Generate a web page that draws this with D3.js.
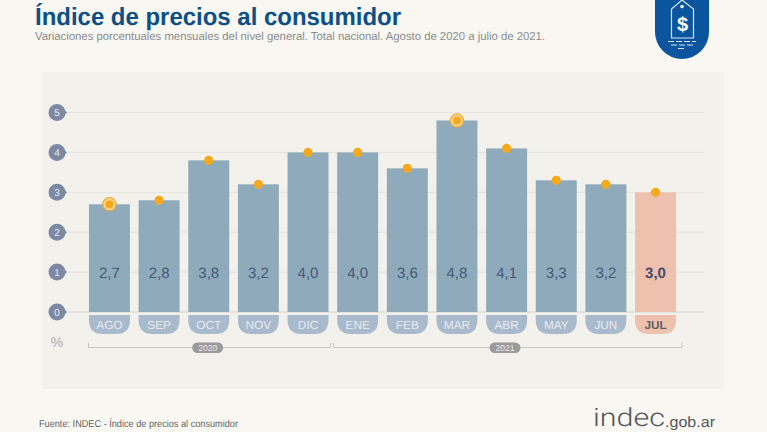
<!DOCTYPE html>
<html><head><meta charset="utf-8">
<script src="https://cdnjs.cloudflare.com/ajax/libs/d3/7.8.5/d3.min.js"></script>
<style>html,body{margin:0;padding:0;background:#f8f7f1}svg{display:block}text{font-family:"Liberation Sans",Arial,sans-serif;text-rendering:geometricPrecision}</style>
</head><body><div id="c"></div>
<script>
const months=["AGO","SEP","OCT","NOV","DIC","ENE","FEB","MAR","ABR","MAY","JUN","JUL"];
const values=[2.7,2.8,3.8,3.2,4.0,4.0,3.6,4.8,4.1,3.3,3.2,3.0];
const yTicks=[0,1,2,3,4,5];
const ringed=["AGO","MAR"];
const years=["2020","2021"];
const title="Índice de precios al consumidor";
const subtitle="Variaciones porcentuales mensuales del nivel general. Total nacional. Agosto de 2020 a julio de 2021.";
const source="Fuente: INDEC - Índice de precios al consumidor";
const W=767,H=432;
const svg=d3.select("#c").append("svg").attr("width",W).attr("height",H);
svg.append("rect").attr("width",W).attr("height",H).attr("fill","#f8f7f1");
svg.append("rect").attr("x",42).attr("y",72).attr("width",682).attr("height",317).attr("fill","#f2f1ec");
const x=d3.scaleBand().domain(months).range([84.5,680.5]).paddingInner(0.175).paddingOuter(0.09);
const y=d3.scaleLinear().domain([0,5]).range([312,112.5]);
const g=svg.append("g");
// gridlines
g.selectAll("line.grid").data(yTicks).join("line").attr("x1",68).attr("x2",704)
 .attr("y1",d=>y(d)).attr("y2",d=>y(d)).attr("stroke",d=>d===0?"#d5d3cc":"#e4e3dd").attr("stroke-width",1);
// axis badges
const badge=g.selectAll("g.b").data(yTicks).join("g").attr("transform",d=>`translate(57,${y(d)})`);
badge.append("path").attr("d","M-8.5,0a8.5,8.5 0 1,1 8.5,8.5a8.5,8.5 0 0,1 -8.5,-8.5Z M2,-8.2 L10,0 L2,8.2Z").attr("fill","#7d88a3");
badge.append("text").attr("text-anchor","middle").attr("x",0).attr("y",3.5).attr("font-size",10).attr("fill","#e9ebef").text(d=>d);
// bars
const isLast=d=>d==="JUL";
g.selectAll("rect.bar").data(months).join("rect").attr("x",d=>x(d)).attr("width",x.bandwidth())
 .attr("y",(d,i)=>y(values[i])).attr("height",(d,i)=>y(0)-y(values[i]))
 .attr("fill",d=>isLast(d)?"#eec0ae":"#8eaabb");
g.selectAll("text.val").data(months).join("text").attr("text-anchor","middle").attr("x",d=>x(d)+x.bandwidth()/2).attr("y",278)
 .attr("font-size",15).attr("font-weight",d=>isLast(d)?"bold":"normal").attr("fill",d=>isLast(d)?"#474a68":"#45597a").text((d,i)=>values[i].toFixed(1).replace(".",","));
// tabs
const tab=(x0,w,y0,h,r)=>`M${x0},${y0}H${x0+w}V${y0+h-r}Q${x0+w},${y0+h} ${x0+w-r},${y0+h}H${x0+r}Q${x0},${y0+h} ${x0},${y0+h-r}Z`;
g.selectAll("path.tab").data(months).join("path").attr("d",d=>tab(x(d),x.bandwidth(),315,19,14)).attr("fill",d=>isLast(d)?"#eec0ae":"#a9bacd");
g.selectAll("text.m").data(months).join("text").attr("text-anchor","middle").attr("x",d=>x(d)+x.bandwidth()/2).attr("y",328.5)
 .attr("font-size",11.8).attr("font-weight",d=>isLast(d)?"bold":"normal").attr("fill",d=>isLast(d)?"#5e5e62":"#e6eaef").text(d=>d);
// markers
const center=d=>x(d)+x.bandwidth()/2;
const valueOf=d=>values[months.indexOf(d)];
g.selectAll("circle.ring").data(ringed).join("circle").attr("cx",center).attr("cy",d=>y(valueOf(d)))
 .attr("r",6.6).attr("fill","#f7d596").attr("stroke","#f0ab2c").attr("stroke-width",1.2);
g.selectAll("circle.pt").data(months).join("circle").attr("cx",center).attr("cy",d=>y(valueOf(d))).attr("r",d=>ringed.includes(d)?4:4.6).attr("fill","#f4a91f");
// year brackets
const bracketRange=d3.scaleOrdinal().domain(years).range([[88.5,330.5],[333.5,682]]);
const pillX=d3.scaleOrdinal().domain(years).range([207.7,505]);
const yr=g.selectAll("g.y").data(years).join("g");
yr.append("path").attr("d",d=>{const [a,b]=bracketRange(d);return `M${a},343V347.5H${b}V343`;}).attr("fill","none").attr("stroke","#c9c6bd").attr("stroke-width",1);
yr.append("rect").attr("x",d=>pillX(d)-15.5).attr("y",342.5).attr("width",31).attr("height",10.5).attr("rx",5.2).attr("fill","#9a9a9c");
yr.append("text").attr("x",pillX).attr("y",351).attr("text-anchor","middle").attr("font-size",8.5).attr("fill","#eee").text(d=>d);
g.append("text").attr("x",57).attr("y",347).attr("text-anchor","middle").attr("font-size",14).attr("fill","#aaaaad").text("%");
// titles
svg.append("text").attr("x",35).attr("y",25).attr("font-size",24.8).attr("font-weight","bold").attr("fill","#0e4f86").attr("textLength",366).attr("lengthAdjust","spacingAndGlyphs").text(title);
svg.append("text").attr("x",35).attr("y",39.5).attr("font-size",11.5).attr("fill","#8b8c8e").attr("textLength",510).attr("lengthAdjust","spacingAndGlyphs").text(subtitle);
svg.append("text").attr("x",39).attr("y",427).attr("font-size",10).attr("fill","#666").attr("textLength",199).attr("lengthAdjust","spacingAndGlyphs").text(source);
// logo
svg.append("text").attr("x",593).attr("y",426).attr("font-size",25).attr("font-weight",300).style("font-family","Roboto").attr("fill","#56565a").attr("textLength",72).attr("lengthAdjust","spacingAndGlyphs").text("indec");
svg.append("text").attr("x",665).attr("y",427).attr("font-size",15).attr("fill","#56565a").attr("textLength",50).attr("lengthAdjust","spacingAndGlyphs").text(".gob.ar");
// badge icon
const ic=svg.append("g");
ic.append("path").attr("d","M655,0H709V32A27,27 0 0 1 655,32Z").attr("fill","#0b559f");
ic.append("path").attr("d","M671.5,38V9L682,0L693.5,9V38Z").attr("fill","none").attr("stroke","#dbe6f2").attr("stroke-width",1.2);
ic.append("circle").attr("cx",682).attr("cy",6.5).attr("r",1.8).attr("fill","#fff");
ic.append("text").attr("x",682.5).attr("y",31).attr("text-anchor","middle").attr("font-size",20).attr("font-weight","bold").attr("fill","#fff").text("$");
ic.append("path").attr("d","M668,41.5H696M671,45H693M678,48.5H686").attr("stroke","#dbe6f2").attr("stroke-width",1).attr("stroke-dasharray","6 2");
</script></body></html>
